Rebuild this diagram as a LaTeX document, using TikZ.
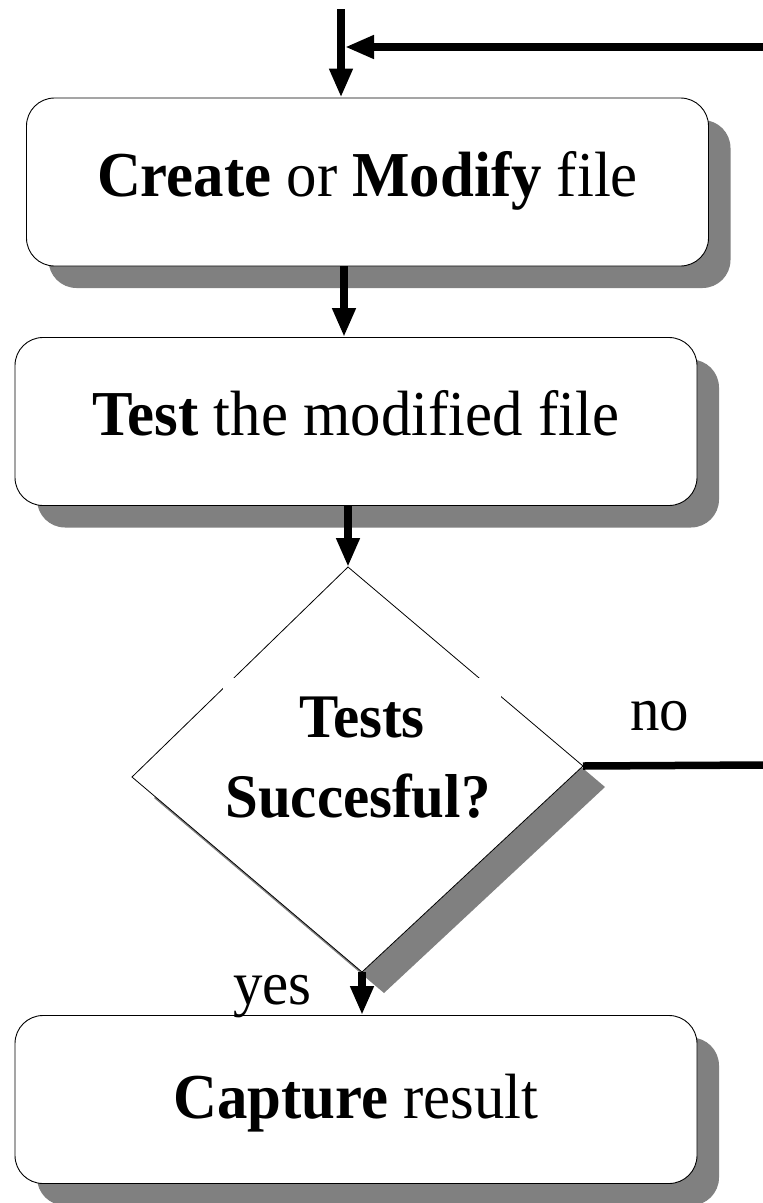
\documentclass[tikz,border=0pt]{standalone}
\usepackage{fontspec}
\setmainfont{Liberation Serif}[FakeStretch=0.95]
\usetikzlibrary{arrows.meta,shadows}
\begin{document}
\begin{tikzpicture}[x=1pt,y=-1pt,
  bigfont/.style={font=\fontsize{62}{80}\selectfont},
  boxfont/.style={font=\fontsize{64}{80}\selectfont},
  box/.style={draw=black, line width=0.9pt, fill=white, rounded corners=28pt,
    minimum width=682pt, minimum height=168pt, inner sep=0pt,
    text height=41pt, text depth=13pt, boxfont,
    drop shadow={shadow xshift=22pt, shadow yshift=-22pt, fill=gray, opacity=1}},
  arr/.style={line width=7.5pt, -{Triangle[length=29pt,width=22pt]}},
  noline/.style={line width=7.5pt},
  lbl/.style={bigfont, inner sep=0pt, anchor=base}
]
\useasboundingbox (0,0) rectangle (763,1203);

% boxes
\node[box] (b1) at (367.5,182) {\textbf{Create} or \textbf{Modify} file};
\node[box] (b2) at (356,421.5) {\textbf{Test} the modified file};
\node[box, text depth=4pt] (b3) at (356,1099.5) {\textbf{Capture} result};

% diamond
\coordinate (dtop) at (348,567);
\coordinate (dright) at (583,766);
\coordinate (dbottom) at (362,972);
\coordinate (dleft) at (132,777);
\fill[gray] ([shift={(22,21)}]dtop) -- ([shift={(22,21)}]dright)
  -- ([shift={(22,21)}]dbottom) -- ([shift={(22,21)}]dleft) -- cycle;
\draw[fill=white, line width=0.8pt] (dtop) -- (dright) -- (dbottom) -- (dleft) -- cycle;
\fill[white] (223,678) rectangle (501,830);
\node[lbl, font=\fontsize{62}{80}\selectfont\bfseries] (dt1) at (362,737) {Tests};
\node[lbl, font=\fontsize{62}{80}\selectfont\bfseries] (dt2) at (358,817) {Succesful?};

% labels
\node[lbl, anchor=base west] (no) at (630,730) {no};
\node[lbl, anchor=base west] (yes) at (233,1004) {yes};

% connectors
\coordinate (topin) at (341,9);
\coordinate (loopin) at (763,47);
\coordinate (loopend) at (345,47);
\coordinate (noend) at (763,765);
\draw[arr] (topin) -- (topin |- b1.north);
\draw[arr] (loopin) -- (loopend);
\draw[arr] ([xshift=-23.5pt]b1.south) -- ([xshift=-12pt]b2.north);
\draw[arr] ([xshift=-8pt]b2.south) -- (dtop);
\draw[arr] (dbottom) -- ([xshift=6pt]b3.north);
\draw[noline] (dright) -- (noend);
\end{tikzpicture}
\end{document}
